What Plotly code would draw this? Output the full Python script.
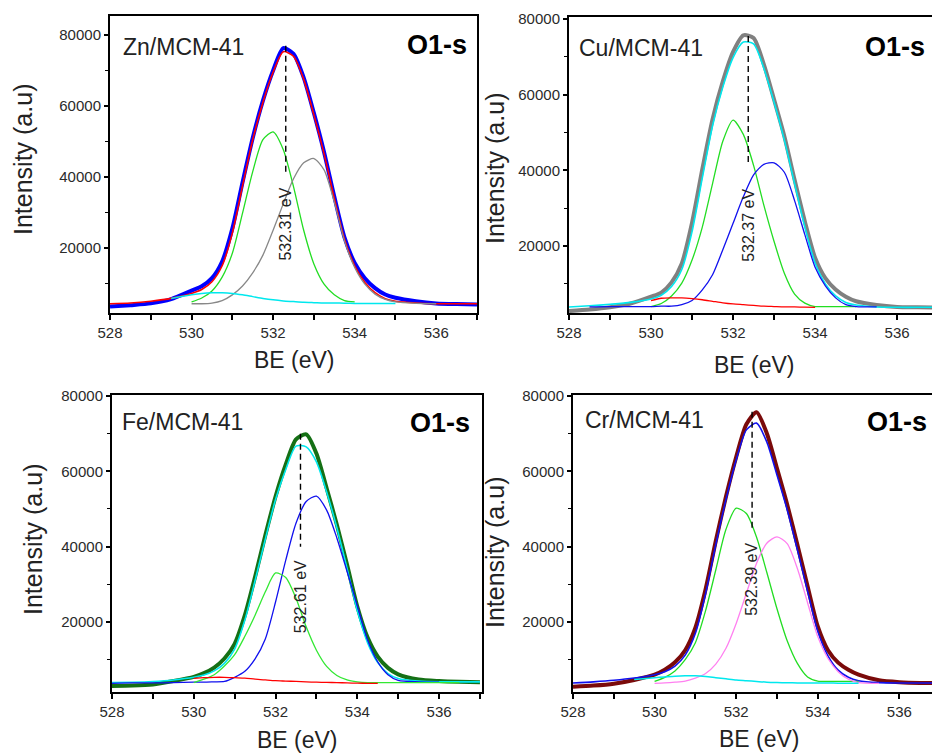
import plotly.graph_objects as go

# ---------------- data ----------------
G = [528, 528.5, 529, 529.5, 530, 530.25, 530.5, 530.75, 531, 531.25, 531.5, 531.75,
     532, 532.25, 532.5, 532.75, 533, 533.25, 533.5, 533.75, 534, 534.25, 534.5,
     534.75, 535, 535.5, 536, 536.5, 537]

# Zn/MCM-41
zn_exp = [3500, 3900, 4400, 5600, 8000, 9200, 11500, 16200, 25500, 38500, 51000, 61500, 70000,
          76300, 74700, 68000, 58000, 47000, 34500, 23000, 15800, 11500, 8700, 6900, 6000,
          5000, 4400, 4200, 4100]
zn_fit = [4300, 4500, 5000, 5800, 7200, 8300, 10500, 15000, 24200, 37500, 50500, 61000, 69500,
          75300, 74000, 67500, 57500, 46500, 34000, 22500, 15000, 10300, 7400, 5700, 5000,
          4500, 4300, 4300, 4300]
zn_c1_x = G[4:21]
zn_c1 = [4800, 5900, 7900, 11800, 18500, 29800, 41500, 50500, 52700, 47700, 37300, 25000,
         15500, 9800, 6800, 5200, 4800]
zn_c2_x = G[4:27]
zn_c2 = [4300, 4300, 4500, 5200, 6800, 9300, 13000, 18000, 25000, 32500, 39500, 44000, 45200,
         42000, 33000, 22000, 14500, 9800, 7000, 5500, 4800, 4400, 4300]
zn_c3_x = G[3:25]
zn_c3 = [5800, 6800, 7200, 7400, 7400, 7200, 6800, 6300, 5800, 5400, 5100, 4900, 4700, 4600,
         4500, 4500, 4450, 4400, 4400, 4400, 4400, 4400]

# Cu/MCM-41
cu_exp = [2800, 3200, 3800, 4800, 6600, 7700, 10400, 15400, 26200, 40300, 53500, 63500, 71300,
          75700, 75000, 68000, 58700, 49000, 37500, 26500, 16900, 11500, 8500, 6600, 5400,
          4400, 3900, 3800, 3700]
cu_fit = [3900, 4200, 4600, 5100, 6000, 7000, 9300, 13800, 23800, 38000, 51800, 62000, 69800,
          73900, 73400, 67000, 58000, 48000, 36500, 25000, 15500, 10000, 6800, 5100, 4400,
          3900, 3800, 3800, 3800]
cu_c1_x = G[4:25]
cu_c1 = [4000, 4800, 6800, 10200, 16300, 25000, 36500, 47700, 53300, 49500, 41300, 30800,
         21200, 12800, 7300, 4900, 4000, 4000, 4000, 4000, 4000]
cu_c2_x = G[1:26]
cu_c2 = [3900, 4000, 4000, 4000, 4100, 4100, 4500, 5600, 8400, 12400, 19000, 26000, 33000,
         38800, 41600, 42000, 39500, 32000, 23000, 14400, 9500, 6300, 4500, 4000, 3900]
cu_c3_x = G[4:21]
cu_c3 = [5600, 6200, 6300, 6300, 6100, 5800, 5400, 5000, 4700, 4500, 4300, 4100, 4000, 3900,
         3900, 3850, 3800]

# Fe/MCM-41
fe_exp = [3000, 3100, 3400, 4300, 5400, 6400, 7900, 10300, 14200, 21800, 32000, 43000, 53300,
          61800, 68500, 69800, 64700, 55500, 45800, 35200, 24100, 15900, 10800, 7800, 6100,
          4700, 4300, 4100, 4000]
fe_fit = [3900, 4000, 4200, 4600, 5300, 5900, 7000, 9000, 12800, 20500, 31000, 42000, 52500,
          60500, 66700, 66500, 62500, 54500, 45000, 34200, 23000, 14500, 9200, 6300, 5000,
          4300, 4100, 4100, 4100]
fe_c1_x = G[0:27]
fe_c1 = [3700, 3800, 3800, 3900, 4000, 4000, 4100, 4200, 5300, 6900, 10200, 15500, 25300,
         36400, 46200, 52000, 53400, 49700, 42300, 33400, 24300, 15300, 9400, 6000, 4500,
         4100, 4000]
fe_c2_x = G[4:28]
fe_c2 = [3900, 4800, 6000, 8300, 11300, 16200, 21800, 28000, 33000, 31800, 26300, 18700,
         12500, 8200, 5800, 4600, 4100, 3900, 3900, 3900, 3900, 3900, 3900, 3900]
fe_c3_x = G[4:23]
fe_c3 = [5000, 5200, 5300, 5300, 5200, 5100, 4800, 4600, 4400, 4300, 4200, 4100, 4000, 3950,
         3900, 3800, 3750, 3700, 3700]

# Cr/MCM-41
cr_exp = [2800, 3100, 3600, 4600, 6000, 7300, 9300, 12500, 18500, 28700, 41500, 53300, 63800,
          72500, 75700, 70100, 60800, 51200, 40500, 29500, 18800, 12500, 9200, 7300, 6000,
          4500, 4000, 3800, 3800]
cr_fit = [3800, 4100, 4500, 5100, 6000, 6800, 8300, 11200, 17000, 27500, 40500, 52500, 63000,
          71000, 72800, 67800, 59000, 49800, 39200, 28200, 17500, 11000, 7200, 5300, 4400,
          3900, 3800, 3800, 3800]
cr_c1_x = G[4:25]
cr_c1 = [4200, 5300, 7000, 10000, 14500, 23000, 33800, 44600, 50200, 48800, 42500, 33200,
         23500, 15000, 9000, 5400, 4300, 4200, 4200, 4200, 4200]
cr_c2_x = G[4:26]
cr_c2 = [3700, 3800, 4000, 4300, 5100, 6300, 8800, 13000, 19600, 27600, 35600, 40900, 42600,
         40800, 34200, 25100, 16100, 10300, 6800, 4800, 3900, 3700]
cr_c3_x = G[3:25]
cr_c3 = [4700, 5200, 5400, 5600, 5700, 5700, 5500, 5200, 4900, 4600, 4400, 4200, 4000, 3900,
         3850, 3800, 3800, 3800, 3800, 3750, 3750, 3700]

samples = ["Zn/MCM-41", "Cu/MCM-41", "Fe/MCM-41", "Cr/MCM-41"]
peak_be = [532.31, 532.37, 532.61, 532.39]
peak_text = ["532.31 eV", "532.37 eV", "532.61 eV", "532.39 eV"]
dash_top = [77000, 75500, 70000, 75800]
dash_bottom = [40500, 41500, 40000, 45000]
label_y = [26800, 25400, 26700, 31200]
x_ticks = [528, 530, 532, 534, 536]
x_ticklabels = ["528", "530", "532", "534", "536"]
y_ticks = [20000, 40000, 60000, 80000]
y_ticklabels = ["20000", "40000", "60000", "80000"]

# ---------------- styling ----------------
W, H = 932, 753
FONT = "Liberation Sans, Arial, sans-serif"

def px(v):
    return v / W

def py(v):
    return 1 - v / H

# pixel boxes: left, right, top, bottom ; x range ; y range ; mirror right
boxes = [
    (110, 477, 16, 313, [528, 537.0], [1690, 85350], True),
    (569, 932, 17, 313, [528, 536.85], [2300, 80530], False),
    (112, 482, 395, 692, [528, 537.05], [1400, 80260], True),
    (573, 932, 395, 692, [528, 536.8], [1400, 80260], False),
]

curves = [
    [  # Zn
        (G, zn_exp, "#0000ff", 4.0),
        (G, zn_fit, "#ff0000", 1.6),
        (zn_c1_x, zn_c1, "#22dd22", 1.3),
        (zn_c2_x, zn_c2, "#888888", 1.3),
        (zn_c3_x, zn_c3, "#00e8ee", 1.5),
    ],
    [  # Cu
        (G, cu_exp, "#808080", 4.0),
        (G, cu_fit, "#00e8ee", 1.6),
        (cu_c1_x, cu_c1, "#22dd22", 1.3),
        (cu_c2_x, cu_c2, "#1010ee", 1.3),
        (cu_c3_x, cu_c3, "#ff0000", 1.3),
    ],
    [  # Fe
        (G, fe_exp, "#157015", 4.0),
        (G, fe_fit, "#00e8ee", 1.6),
        (fe_c1_x, fe_c1, "#1010ee", 1.3),
        (fe_c2_x, fe_c2, "#33e833", 1.3),
        (fe_c3_x, fe_c3, "#ff0000", 1.3),
    ],
    [  # Cr
        (G, cr_exp, "#7a0a0a", 4.0),
        (G, cr_fit, "#1010ee", 1.6),
        (cr_c1_x, cr_c1, "#22dd22", 1.3),
        (cr_c2_x, cr_c2, "#ff80f0", 1.3),
        (cr_c3_x, cr_c3, "#00e8ee", 1.5),
    ],
]

title_pos = [
    # sample label (x_left, y), O1-s (x_left, y), y-title (x, y), x-title (x, y)
    ((121, 47), (405, 45), (23, 160), (294, 360)),
    ((577, 48), (863, 47), (495, 169), (754, 365)),
    ((120, 422), (408, 423), (33, 540), (297, 740)),
    ((583, 420), (865, 422), (495, 553), (759, 739)),
]

fig = go.Figure()
layout = dict(
    width=W, height=H, autosize=False,
    margin=dict(l=0, r=0, t=0, b=0, pad=0, autoexpand=False),
    paper_bgcolor="white", plot_bgcolor="white",
    showlegend=False,
    font=dict(family=FONT, color="#222222"),
)
annotations = []

for i in range(4):
    left, right, top, bottom, xr, yr, mirror_r = boxes[i]
    sfx = "" if i == 0 else str(i + 1)
    xa, ya = "x" + sfx, "y" + sfx
    for (xs, ys, col, w) in curves[i]:
        fig.add_trace(go.Scatter(
            x=xs, y=ys, mode="lines", xaxis=xa, yaxis=ya,
            line=dict(color=col, width=w, shape="spline", smoothing=0.7),
            hoverinfo="skip"))
    # dashed marker line at peak maximum
    fig.add_trace(go.Scatter(
        x=[peak_be[i], peak_be[i]], y=[dash_top[i], dash_bottom[i]],
        mode="lines", xaxis=xa, yaxis=ya,
        line=dict(color="black", width=1.4, dash="6px,4px"), hoverinfo="skip"))

    layout["xaxis" + sfx] = dict(
        domain=[px(left), px(right)], range=xr, anchor=ya, automargin=False,
        showline=True, linecolor="black", linewidth=2, mirror=True,
        showgrid=False, zeroline=False,
        tickmode="array", tickvals=x_ticks, ticktext=x_ticklabels,
        ticks="outside", ticklen=5, tickwidth=1.5, tickcolor="black",
        minor=dict(dtick=1, tick0=528, ticks="outside", ticklen=5, tickwidth=1.5,
                   tickcolor="black", showgrid=False),
        tickfont=dict(size=15, family=FONT, color="#2a2a2a"),
    )
    layout["yaxis" + sfx] = dict(
        domain=[py(bottom), py(top)], range=yr, anchor=xa, automargin=False,
        showline=True, linecolor="black", linewidth=2, mirror=mirror_r,
        showgrid=False, zeroline=False,
        tickmode="array", tickvals=y_ticks, ticktext=y_ticklabels,
        ticks="outside", ticklen=4, tickwidth=1.5, tickcolor="black",
        minor=dict(dtick=10000, tick0=0, ticks="outside", ticklen=3, tickwidth=1.2,
                   tickcolor="black", showgrid=False),
        tickfont=dict(size=15, family=FONT, color="#2a2a2a"),
    )

    (sx, sy), (ox, oy), (ytx, yty), (xtx, xty) = title_pos[i]
    annotations.append(dict(
        text=samples[i], xref="paper", yref="paper", x=px(sx), y=py(sy),
        xanchor="left", yanchor="middle", showarrow=False,
        font=dict(size=23, family=FONT, color="#222222")))
    annotations.append(dict(
        text="<b>O1-s</b>", xref="paper", yref="paper", x=px(ox), y=py(oy),
        xanchor="left", yanchor="middle", showarrow=False,
        font=dict(size=27, family=FONT, color="black")))
    annotations.append(dict(
        text="Intensity (a.u)", xref="paper", yref="paper", x=px(ytx), y=py(yty),
        xanchor="center", yanchor="middle", showarrow=False, textangle=-90,
        font=dict(size=25, family=FONT, color="#222222")))
    annotations.append(dict(
        text="BE (eV)", xref="paper", yref="paper", x=px(xtx), y=py(xty),
        xanchor="center", yanchor="middle", showarrow=False,
        font=dict(size=23, family=FONT, color="#222222")))
    annotations.append(dict(
        text=peak_text[i], xref=xa, yref=ya, x=peak_be[i], y=label_y[i],
        xanchor="center", yanchor="middle", showarrow=False, textangle=-90,
        font=dict(size=16, family=FONT, color="#222222")))

layout["annotations"] = annotations
fig.update_layout(**layout)
fig.write_html(
    "out.html",
    config={"displayModeBar": False},
    post_script="document.body.style.margin='0px';document.body.style.overflow='hidden';",
)
